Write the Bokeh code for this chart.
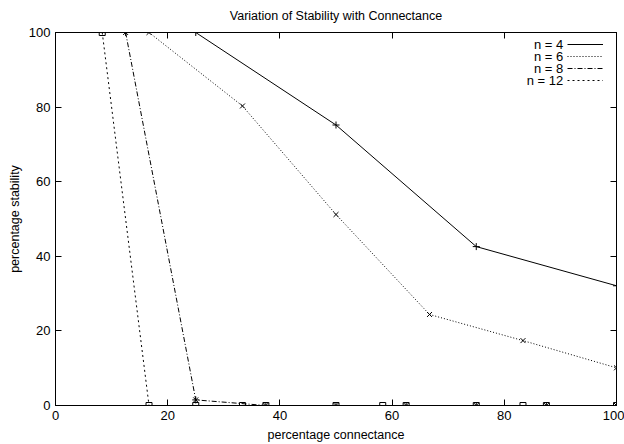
from bokeh.plotting import figure
from bokeh.models import (LinearAxis, Legend, LegendItem, Label, Range1d, FixedTicker,
                          CustomLabelingPolicy)
from bokeh.embed import file_html
from bokeh.resources import INLINE

FONT = "Liberation Sans"

# data
x_n4 = [25, 50, 75, 100]
y_n4 = [100, 75.2, 42.6, 32.1]

x_n6 = [16.67, 33.33, 50, 66.67, 83.33, 100]
y_n6 = [100, 80.3, 51.2, 24.4, 17.4, 10.1]

x_n8 = [12.5, 25, 37.5, 50, 62.5, 75, 87.5, 100]
y_n8 = [100, 1.5, 0, 0, 0, 0, 0, 0]

x_n12 = [8.33, 16.67, 25, 33.33, 37.5, 50, 58.33, 62.5, 75, 83.33, 87.5, 100]
y_n12 = [100, 0, 0, 0, 0, 0, 0, 0, 0, 0, 0, 0]

labels = ["n = 4", "n = 6", "n = 8", "n = 12"]
x_ticks = [0, 20, 40, 60, 80, 100]
y_ticks = [0, 20, 40, 60, 80, 100]

p = figure(width=624, height=444, output_backend="svg", toolbar_location=None,
           x_range=Range1d(0, 100), y_range=Range1d(0, 100),
           min_border_left=55, min_border_right=8, min_border_top=32, min_border_bottom=39)

p.title.text = "Variation of Stability with Connectance"
p.title.align = "center"
p.title.text_font = FONT
p.title.text_font_size = "12.5px"
p.title.text_font_style = "normal"
p.title.text_color = "black"
p.title.standoff = 12

p.grid.visible = False
p.outline_line_color = "black"
p.outline_line_width = 1
p.background_fill_color = "white"
p.border_fill_color = "white"

for ax in [p.xaxis[0], p.yaxis[0]]:
    ax.major_tick_in = 6
    ax.major_tick_out = 0
    ax.minor_tick_in = 0
    ax.minor_tick_out = 0
    ax.axis_line_color = "black"
    ax.major_tick_line_color = "black"
    ax.major_label_text_font = FONT
    ax.major_label_text_font_size = "13px"
    ax.major_label_text_color = "black"
    ax.axis_label_text_font = FONT
    ax.axis_label_text_font_size = "12.5px"
    ax.axis_label_text_font_style = "normal"
    ax.axis_label_text_color = "black"
    ax.major_label_standoff = 5

p.xaxis[0].ticker = FixedTicker(ticks=x_ticks)
p.yaxis[0].ticker = FixedTicker(ticks=y_ticks)
p.xaxis[0].axis_label = "percentage connectance"
p.yaxis[0].axis_label = "percentage stability"
p.xaxis[0].axis_label_standoff = 5
p.yaxis[0].axis_label_standoff = 4

for loc, tk in [("right", y_ticks), ("above", x_ticks)]:
    ax = LinearAxis(ticker=FixedTicker(ticks=tk), major_tick_in=6, major_tick_out=0,
                    minor_tick_in=0, minor_tick_out=0,
                    major_label_policy=CustomLabelingPolicy(code="return new Set()"),
                    major_label_text_font_size="1px",
                    major_label_standoff=0, axis_line_color="black")
    p.add_layout(ax, loc)

styles = [
    (x_n4, y_n4, "solid", "cross", 7),
    (x_n6, y_n6, "1 2", "x", 7),
    (x_n8, y_n8, "5 2 1 2", "asterisk", 7),
    (x_n12, y_n12, "2 3", "square", 6),
]

items = []
for (xs, ys, dash, marker, sz), lab in zip(styles, labels):
    r = p.line(xs, ys, line_color="black", line_width=1, line_dash=dash)
    p.scatter(xs, ys, marker=marker, size=sz, line_color="black", fill_color=None, line_width=1)
    items.append(LegendItem(label=" ", renderers=[r]))

legend = Legend(items=items, location=(512, 319), glyph_width=36, glyph_height=12,
                label_height=12, spacing=0, padding=0, margin=0, label_standoff=0,
                label_text_font_size="9px", border_line_color=None,
                background_fill_alpha=0)
p.add_layout(legend)

leg_y = [96.8, 93.6, 90.4, 87.2]
for lab, yy in zip(labels, leg_y):
    p.add_layout(Label(x=90.5, y=yy, text=lab, text_align="right", text_baseline="middle",
                       text_font=FONT, text_font_size="13px", text_color="black"))

open("out.html", "w").write(file_html(p, INLINE))
